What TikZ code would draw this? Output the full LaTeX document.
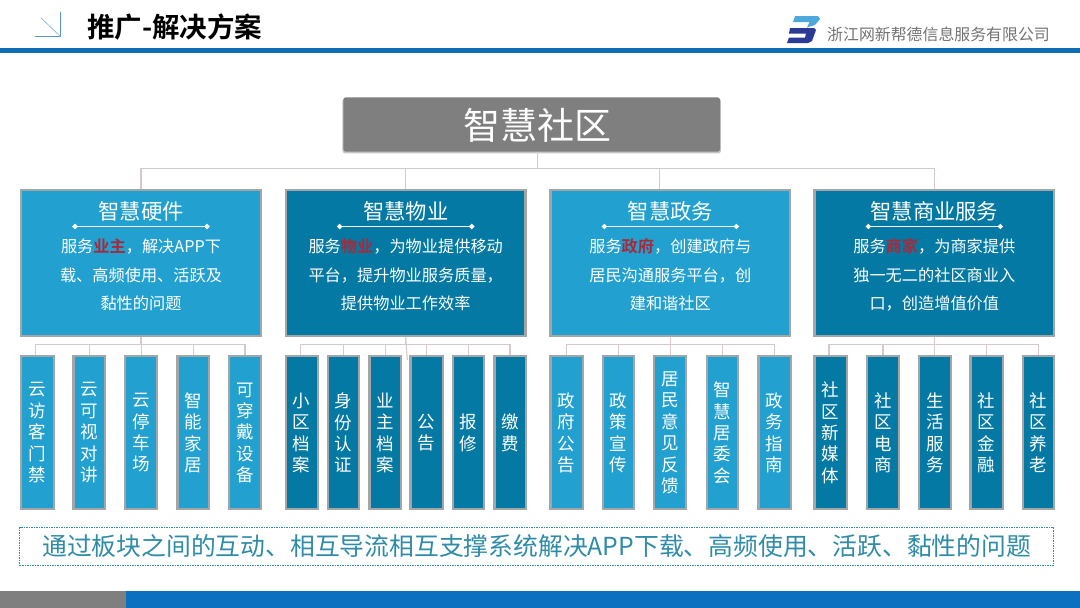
\documentclass[tikz,border=0pt]{standalone}
\usepackage{fontspec}
\setmainfont{Noto Sans CJK SC}
\newfontfamily\boldcjk{Noto Sans CJK SC Bold}
\usetikzlibrary{shadows,calc}
\definecolor{lightblue}{HTML}{22A0D0}
\definecolor{darkblue}{HTML}{0479A3}
\definecolor{edgegray}{HTML}{A3A6A8}
\definecolor{linepink}{HTML}{D8C8CA}
\definecolor{barblue}{HTML}{0F6DB3}
\definecolor{footblue}{HTML}{0C70C0}
\definecolor{footgray}{HTML}{7F7F7F}
\definecolor{titlegray}{HTML}{807F80}
\definecolor{redword}{HTML}{A82A3A}
\definecolor{notegreen}{HTML}{2E8CA8}
\definecolor{logolight}{HTML}{4FA8DC}
\definecolor{logodark}{HTML}{2B3A94}
\tikzset{
 x=1pt,y=-1pt,
 bigbox/.style={draw=edgegray,line width=2.4pt,minimum width=239.6pt,minimum height=146.1pt,inner sep=0pt,anchor=north west},
 smallbox/.style={draw=edgegray,line width=2.2pt,minimum height=153pt,inner sep=0pt,anchor=north west,text=white,font=\fontsize{17.5}{21.4}\selectfont,align=center},
 treeline/.style={draw=linepink,line width=1.1pt},
 light/.style={fill=lightblue},
 dark/.style={fill=darkblue},
 boxhead/.style={text=white,font=\fontsize{21.3}{25}\selectfont,inner sep=0pt},
 boxtext/.style={text=white,font=\fontsize{16.2}{28.5}\selectfont,inner sep=0pt,align=center},
}
\newcommand{\redw}[1]{\textcolor{redword}{\boldcjk #1}}
\newcommand{\hub}[5]{% name, left, style, head, body
 \node[bigbox,#3] (#1) at (#2,188.5) {};
 \node[boxhead] (#1h) at ($(#1.north)+(0,22.5)$) {#4};
 \coordinate (#1l) at ($(#1.north)+(-66,38)$);
 \coordinate (#1r) at ($(#1.north)+(66,38)$);
 \draw[white,line width=0.8pt] (#1l) -- (#1r);
 \fill[white] ($(#1l)+(-2.8,0)$) -- ($(#1l)+(0,-2.8)$) -- ($(#1l)+(2.8,0)$) -- ($(#1l)+(0,2.8)$) -- cycle;
 \fill[white] ($(#1r)+(-2.8,0)$) -- ($(#1r)+(0,-2.8)$) -- ($(#1r)+(2.8,0)$) -- ($(#1r)+(0,2.8)$) -- cycle;
 \node[boxtext] (#1b) at ($(#1.north)+(0,86.5)$) {#5};
}
\newcommand{\leaf}[5]{% name,left,right,style,text
 \pgfmathsetmacro{\lw}{#3-#2-2.2}
 \node[smallbox,#4,minimum width=\lw pt,text width=\lw pt] (#1) at (#2,355.2) {#5};
}
\begin{document}
\begin{tikzpicture}
\useasboundingbox (0,0) rectangle (1080,608);
\fill[white] (0,0) rectangle (1080,608);
% header
\fill[barblue] (0,48.3) rectangle (1080,53);
\coordinate (ia) at (60.5,12);
\coordinate (ib) at (60.5,36.5);
\coordinate (ic) at (35,36.5);
\coordinate (id) at (41,18);
\draw[color=barblue!70,line width=0.8pt] (ia) -- (ib) -- (ic);
\draw[color=barblue!45,line width=0.8pt] (id) -- (ib);
\node[inner sep=0pt,anchor=west,font=\boldcjk\fontsize{27.5}{32}\selectfont,text=black] (title) at (87,27) {推广-解决方案};
\node[inner sep=0pt,anchor=west,font=\fontsize{15.9}{19}\selectfont,text=black!55] (company) at (827,34) {浙江网新帮德信息服务有限公司};
% logo
\fill[logolight] (795,16) -- (818,16) -- (820,19) -- (815,25) -- (807,27.5) -- (809.5,22) -- (793,22) -- cycle;
\fill[logodark] (790,28) -- (814,28) -- (816,30) -- (812,41) -- (808,43) -- (787,43) -- (789,37.5) -- (805,37.5) -- (806,33.5) -- (789,33.5) -- cycle;
% top
\node[fill=titlegray,rounded corners=2.5pt,minimum width=376.6pt,minimum height=54.4pt,inner sep=0pt,drop shadow={shadow xshift=0pt,shadow yshift=-1.5pt,opacity=.45,shadow scale=1.005}] (top) at (531.7,124.5) {};
\node[inner sep=0pt,text=white,font=\fontsize{37}{42}\selectfont] (toptext) at (537,125) {智慧社区};
\coordinate (topdrop) at (537.3,151.7);
\coordinate (cdrop) at (659.5,188.5);
% hubs
\hub{A}{20}{light}{智慧硬件}{服务\redw{业主}，解决APP下\\载、高频使用、活跃及\\黏性的问题}
\hub{B}{284.7}{dark}{智慧物业}{服务\redw{物业}，为物业提供移动\\平台，提升物业服务质量，\\提供物业工作效率}
\hub{C}{549.3}{light}{智慧政务}{服务\redw{政府}，创建政府与\\居民沟通服务平台，创\\建和谐社区}
\hub{D}{813.3}{dark}{智慧商业服务}{服务\redw{商家}，为商家提供\\独一无二的社区商业入\\口，创造增值价值}
% connectors
\draw[treeline] (topdrop) -- (537.3,168.3) coordinate (tj);
\draw[treeline] (A.north) |- (tj) -| (D.north);
\draw[treeline] (B.north) -- (B.north |- tj);
\draw[treeline] (cdrop) -- (cdrop |- tj);
% leaves
\leaf{a1}{20}{54.7}{light}{云\\访\\客\\门\\禁}
\leaf{a2}{72.3}{106}{light}{云\\可\\视\\对\\讲}
\leaf{a3}{124}{158.3}{light}{云\\停\\车\\场}
\leaf{a4}{176.3}{210}{light}{智\\能\\家\\居}
\leaf{a5}{228}{262}{light}{可\\穿\\戴\\设\\备}
\leaf{b1}{284.7}{318.7}{dark}{小\\区\\档\\案}
\leaf{b2}{326.7}{360}{dark}{身\\份\\认\\证}
\leaf{b3}{368.3}{402.3}{dark}{业\\主\\档\\案}
\leaf{b4}{409.3}{443.7}{dark}{公\\告}
\leaf{b5}{451.7}{485}{dark}{报\\修}
\leaf{b6}{493.3}{526.7}{dark}{缴\\费}
\leaf{c1}{549.3}{583.7}{light}{政\\府\\公\\告}
\leaf{c2}{601.7}{635}{light}{政\\策\\宣\\传}
\leaf{c3}{653}{687.3}{light}{居\\民\\意\\见\\反\\馈}
\leaf{c4}{705.7}{739}{light}{智\\慧\\居\\委\\会}
\leaf{c5}{757.3}{791.7}{light}{政\\务\\指\\南}
\leaf{d1}{813.3}{847.7}{dark}{社\\区\\新\\媒\\体}
\leaf{d2}{866}{900}{dark}{社\\区\\电\\商}
\leaf{d3}{918}{951.7}{dark}{生\\活\\服\\务}
\leaf{d4}{969.3}{1003.7}{dark}{社\\区\\金\\融}
\leaf{d5}{1022}{1055.3}{dark}{社\\区\\养\\老}
\foreach \h/\f/\l/\s/\list in {A/a1/a5/-2/{a2,a3,a4},B/b1/b6/-1/{b2,b3,b4,b5},C/c1/c5/0/{c2,c3,c4},D/d1/d5/-1.5/{d2,d3,d4}}{
 \draw[treeline] (\h.south) -- (\h.south |- 0,344.7) coordinate (hj);
 \draw[treeline] ([xshift=\s pt]\f.north) |- (hj) -| (\l.north);
 \foreach \m in \list { \draw[treeline] (\m.north) -- (\m.north |- hj); }
}
\coordinate (bstub) at (407.3,360);
\draw[treeline] (B.south) -- (bstub);
% note
\node[draw=notegreen,dash pattern=on 1.5pt off 1pt,line width=0.7pt,minimum width=1034pt,minimum height=37.4pt,inner sep=0pt,text=notegreen,font=\fontsize{24.8}{29}\selectfont] (note) at (536.7,546.3) {通过板块之间的互动、相互导流相互支撑系统解决APP下载、高频使用、活跃、黏性的问题};
% footer
\fill[footgray] (0,591) rectangle (126,608);
\fill[footblue] (126,591) rectangle (1080,608);
\end{tikzpicture}
\end{document}
